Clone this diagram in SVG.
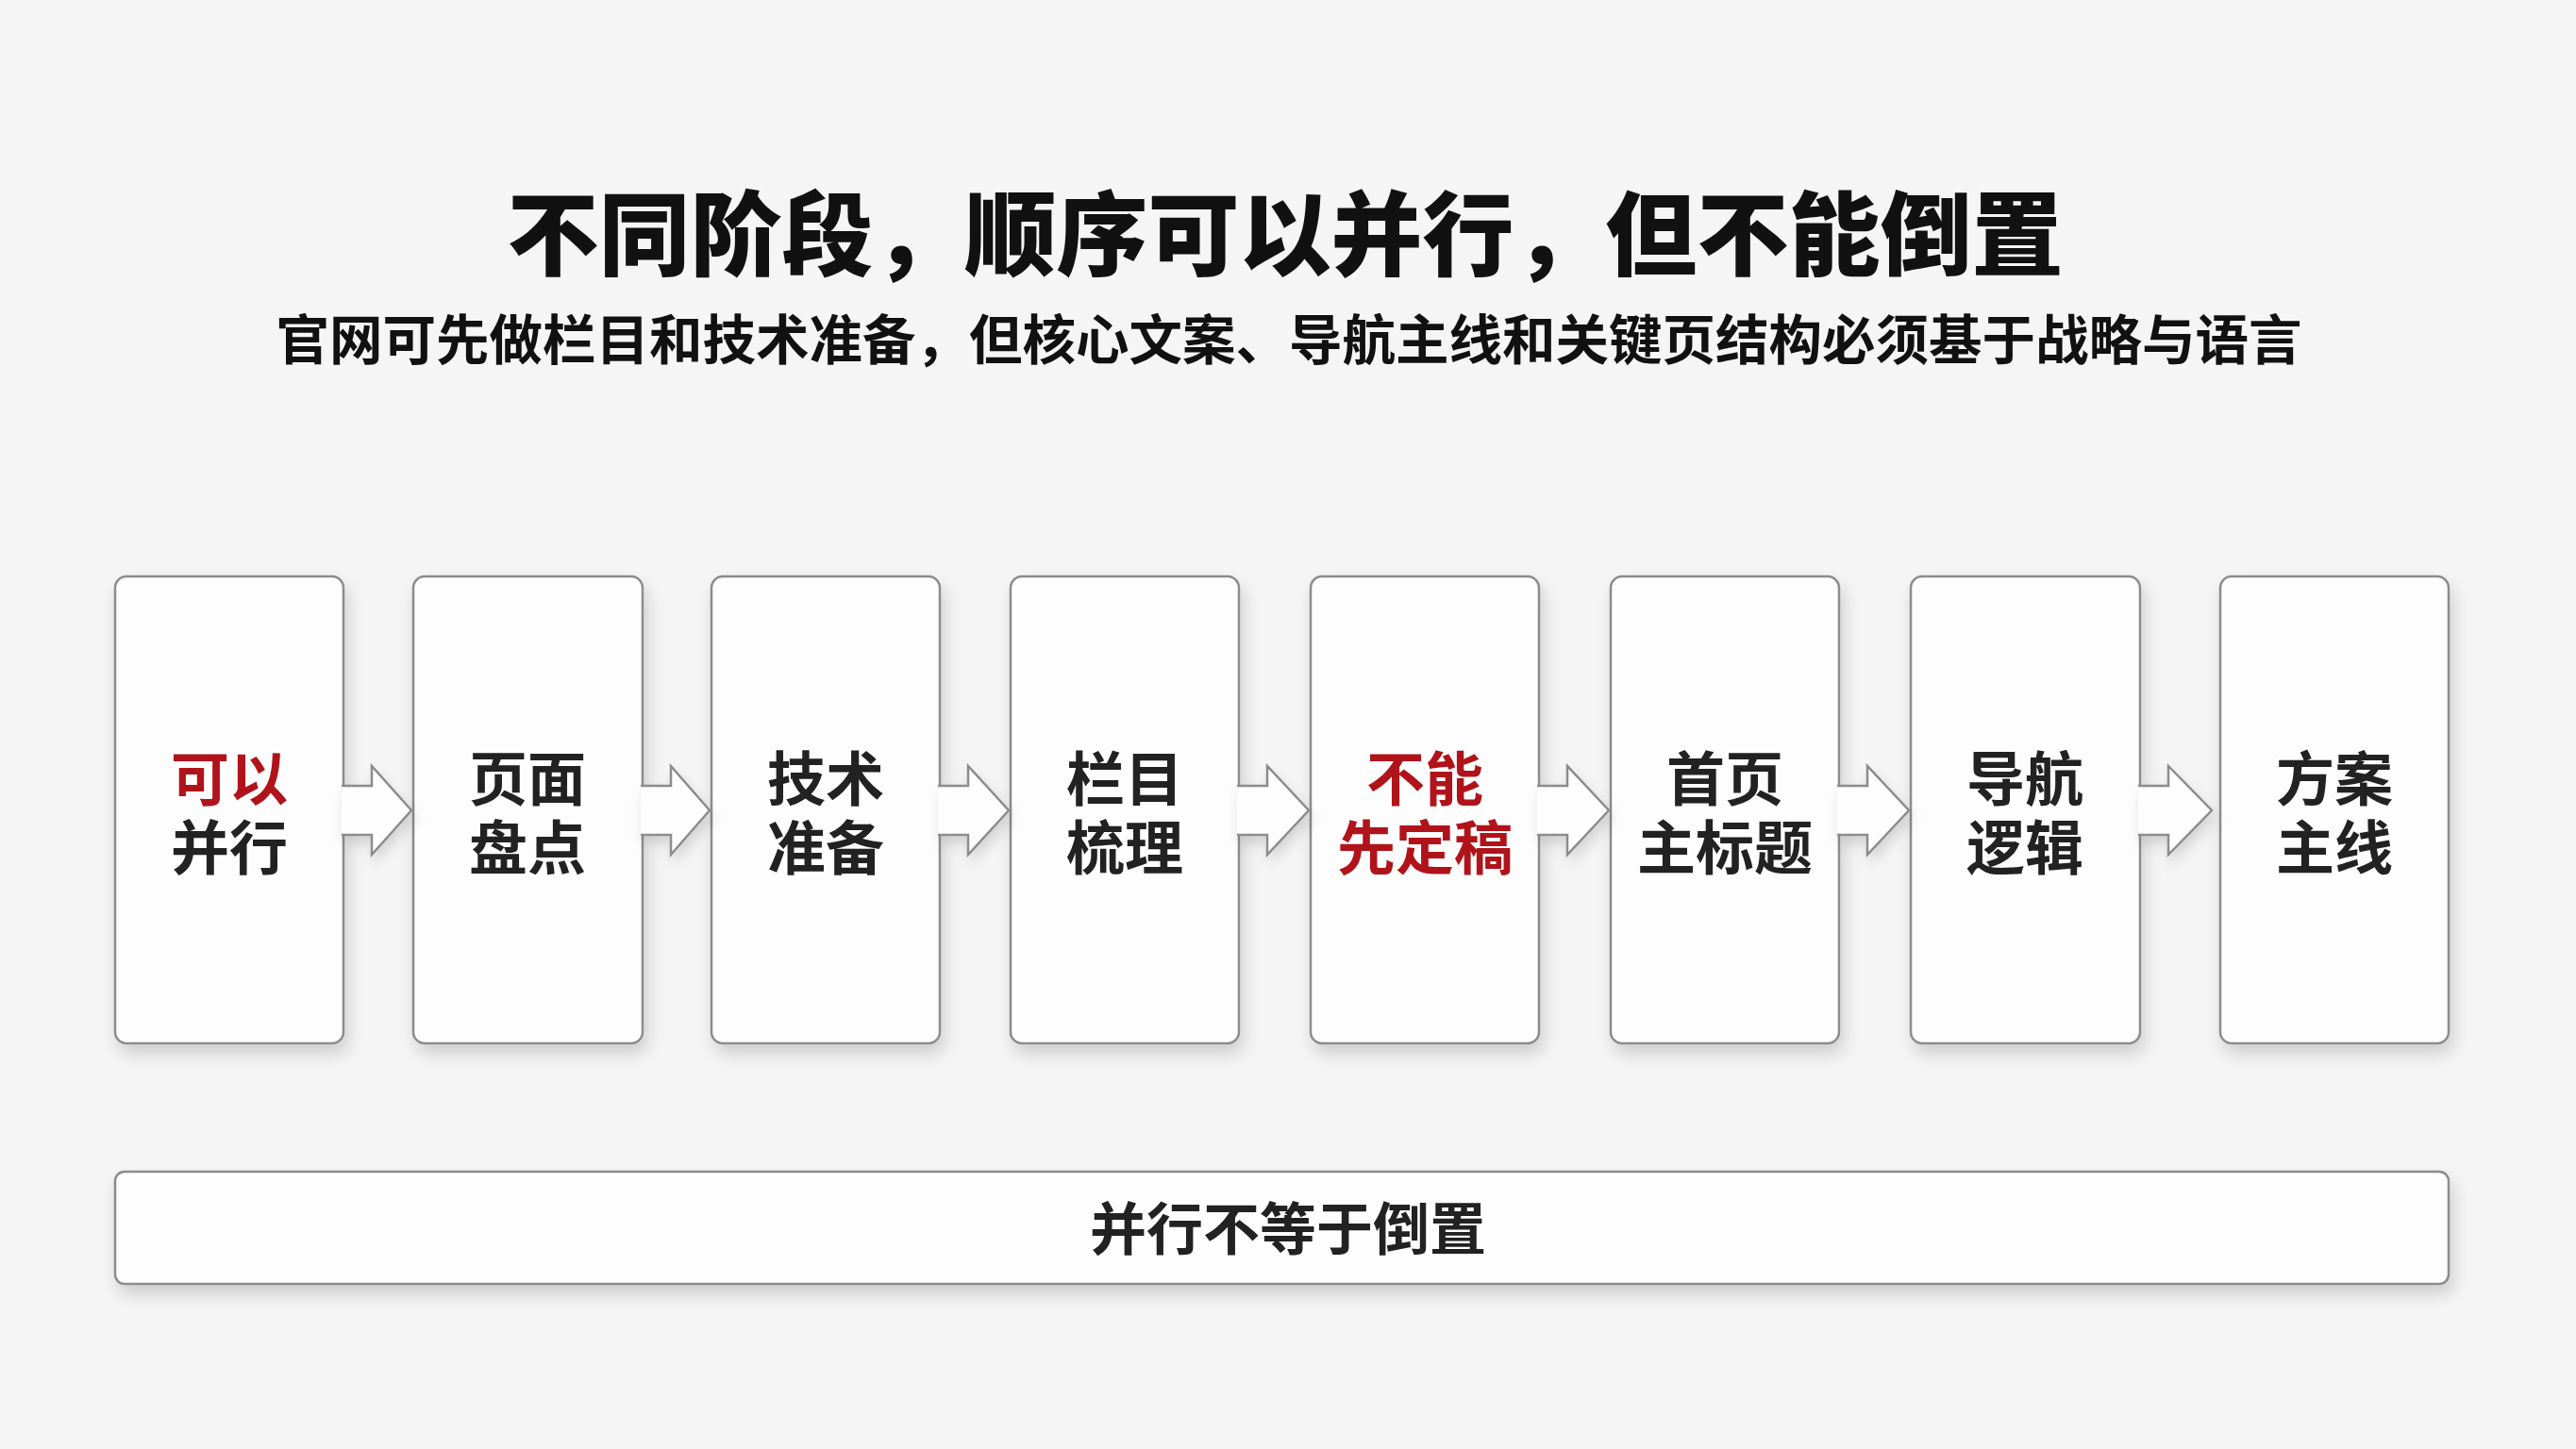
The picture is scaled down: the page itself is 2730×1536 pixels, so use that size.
<svg xmlns="http://www.w3.org/2000/svg" width="2730" height="1536" viewBox="0 0 2730 1536">
<style>
.cjk{font-family:"Noto Sans CJK SC","Noto Sans CJK TC",sans-serif;}
.title{font-size:97px;font-weight:900;fill:#111;}
.sub{font-size:56.5px;font-weight:700;fill:#111;}
.lbl{font-size:62px;font-weight:700;fill:#222;text-anchor:middle;}
.red{fill:#b0131a;}
.box{fill:#fdfdfd;stroke:#8c8c8c;stroke-width:2.5;}
.arr{fill:#fdfdfd;stroke:#8c8c8c;stroke-width:2.5;stroke-linejoin:miter;}
</style>
<defs>
<filter id="sh" x="-20%" y="-10%" width="150%" height="130%">
<feDropShadow dx="4" dy="10" stdDeviation="9" flood-color="#000" flood-opacity="0.16"/>
</filter>
<filter id="sha" x="-30%" y="-30%" width="170%" height="180%">
<feDropShadow dx="3" dy="8" stdDeviation="7" flood-color="#000" flood-opacity="0.14"/>
</filter>
</defs>
<rect width="2730" height="1536" fill="#f5f5f5"/>
<g id="title">
<text class="cjk title" x="1362" y="284" text-anchor="middle">不同阶段，顺序可以并行，但不能倒置</text>
<text class="cjk sub" x="1366" y="381" text-anchor="middle">官网可先做栏目和技术准备，但核心文案、导航主线和关键页结构必须基于战略与语言</text>
</g>
<g id="n1"><rect class="box" filter="url(#sh)" x="122" y="611" width="242" height="495" rx="12"/>
<text class="cjk lbl" x="243"><tspan class="red" x="243" y="849">可以</tspan><tspan x="243" y="922">并行</tspan></text></g>
<g id="n2"><rect class="box" filter="url(#sh)" x="438" y="611" width="243" height="495" rx="12"/>
<text class="cjk lbl" x="559"><tspan x="559" y="849">页面</tspan><tspan x="559" y="922">盘点</tspan></text></g>
<g id="n3"><rect class="box" filter="url(#sh)" x="754" y="611" width="242" height="495" rx="12"/>
<text class="cjk lbl" x="875"><tspan x="875" y="849">技术</tspan><tspan x="875" y="922">准备</tspan></text></g>
<g id="n4"><rect class="box" filter="url(#sh)" x="1071" y="611" width="242" height="495" rx="12"/>
<text class="cjk lbl" x="1192"><tspan x="1192" y="849">栏目</tspan><tspan x="1192" y="922">梳理</tspan></text></g>
<g id="n5"><rect class="box" filter="url(#sh)" x="1389" y="611" width="242" height="495" rx="12"/>
<text class="cjk lbl red" x="1510"><tspan x="1510" y="849">不能</tspan><tspan x="1510" y="922">先定稿</tspan></text></g>
<g id="n6"><rect class="box" filter="url(#sh)" x="1707" y="611" width="242" height="495" rx="12"/>
<text class="cjk lbl" x="1828"><tspan x="1828" y="849">首页</tspan><tspan x="1828" y="922">主标题</tspan></text></g>
<g id="n7"><rect class="box" filter="url(#sh)" x="2025" y="611" width="243" height="495" rx="12"/>
<text class="cjk lbl" x="2146"><tspan x="2146" y="849">导航</tspan><tspan x="2146" y="922">逻辑</tspan></text></g>
<g id="n8"><rect class="box" filter="url(#sh)" x="2353" y="611" width="242" height="495" rx="12"/>
<text class="cjk lbl" x="2474"><tspan x="2474" y="849">方案</tspan><tspan x="2474" y="922">主线</tspan></text></g>
<g id="connectors">
<path class="arr" filter="url(#sha)" d="M362,833 L394,833 L394,812 L436,859 L394,906 L394,885 L362,885"/>
<path class="arr" filter="url(#sha)" d="M679,833 L711,833 L711,812 L752,859 L711,906 L711,885 L679,885"/>
<path class="arr" filter="url(#sha)" d="M994,833 L1026,833 L1026,812 L1069,859 L1026,906 L1026,885 L994,885"/>
<path class="arr" filter="url(#sha)" d="M1311,833 L1343,833 L1343,812 L1387,859 L1343,906 L1343,885 L1311,885"/>
<path class="arr" filter="url(#sha)" d="M1629,833 L1661,833 L1661,812 L1705,859 L1661,906 L1661,885 L1629,885"/>
<path class="arr" filter="url(#sha)" d="M1947,833 L1979,833 L1979,812 L2023,859 L1979,906 L1979,885 L1947,885"/>
<path class="arr" filter="url(#sha)" d="M2266,833 L2298,833 L2298,812 L2344,859 L2298,906 L2298,885 L2266,885"/>
</g>
<g id="bar"><rect class="box" filter="url(#sh)" x="122" y="1242" width="2473" height="119" rx="10"/>
<text class="cjk lbl" x="1365" y="1325" style="font-size:60px">并行不等于倒置</text></g>
</svg>
